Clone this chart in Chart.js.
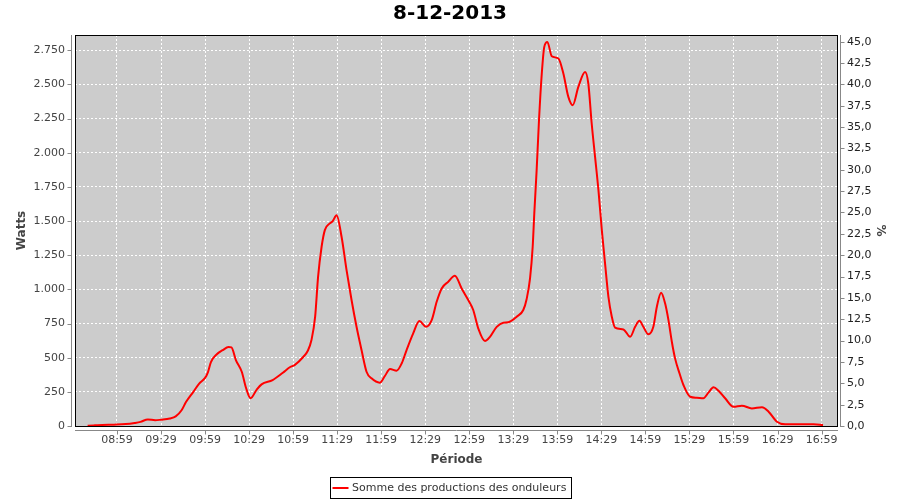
<!DOCTYPE html>
<html>
<head>
<meta charset="utf-8">
<script src="https://cdn.jsdelivr.net/npm/chart.js@4.4.1/dist/chart.umd.min.js"></script>
<style>
  body { margin: 0; background: #fff; }
  #wrap { width: 900px; height: 500px; }
</style>
</head>
<body>
<div id="wrap"><canvas id="prodChart" width="900" height="500"></canvas></div>
<script>
// minutes since midnight
const times = [519, 524, 529, 537, 545, 551, 555, 560, 565, 569, 575, 579, 583, 586, 591, 595, 599, 601, 603, 607, 611, 615, 617, 620, 624, 627, 630,
  634, 637.5, 645, 652, 657, 660, 666, 669, 671.5, 674, 676, 678.4, 680.6, 684, 686, 688.6, 692, 695.4, 698.8, 702.2, 705.6, 709, 712.4, 718,
  721.5, 725, 729.5, 733, 736.3, 740.8, 745, 749.5, 753.4, 756.8, 760.2, 764.7, 769.2, 773.8, 778.3, 781.7, 785.1, 789.7, 793.1, 797.7, 802.2,
  805.6, 811.3, 815.8, 818.1, 820.4, 822.2, 823.3, 824.9, 826.5, 828.4, 830.1, 832.2, 835.2, 839.7, 843.1, 846.5, 849.5, 853.3, 857.9, 860.1,
  862.4, 864.7, 867, 869.3, 871.5, 873.8, 876.1, 878.3, 884, 888.6, 892, 894.9, 897.6, 901, 904.4, 906.8, 909.7, 912.4, 914.7, 917, 919.2,
  922.2, 924.9, 929.5, 934, 938.5, 941.9, 945.4, 948.8, 953.3, 959, 964.7, 971.5, 978.4, 982.9, 988.6, 994.2, 1013.5, 1020];
const watts = [2, 5, 8, 10, 14, 22, 30, 48, 42, 46, 55, 70, 115, 175, 250, 310, 352, 395, 468, 525, 555, 578, 575, 483, 397, 276, 203,
  263, 305, 336, 390, 432, 446, 507, 551, 629, 800, 1092, 1312, 1434, 1483, 1500, 1543, 1385, 1141, 922, 726, 556, 397, 349, 317,
  366, 417, 405, 459, 556, 678, 768, 726, 775, 909, 1007, 1056, 1099, 1007, 922, 849, 715, 622, 653, 726, 756,
  759, 800, 849, 930, 1080, 1312, 1556, 1873, 2238, 2580, 2775, 2811, 2707, 2690, 2580, 2409, 2348, 2482, 2592, 2507,
  2214, 1970, 1726, 1434, 1190, 946, 800, 720, 707, 653, 726, 770, 726, 671, 726, 873, 975, 898, 775, 617, 495,
  386, 300, 214, 207, 203, 244, 283, 258, 203, 141, 149, 129, 137, 105, 31, 12, 12, 7];

const timeTicks = ['08:59', '09:29', '09:59', '10:29', '10:59', '11:29', '11:59', '12:29', '12:59',
  '13:29', '13:59', '14:29', '14:59', '15:29', '15:59', '16:29', '16:59'];
const wattTicks = [0, 250, 500, 750, 1000, 1250, 1500, 1750, 2000, 2250, 2500, 2750];
const pctTicks = [0, 2.5, 5, 7.5, 10, 12.5, 15, 17.5, 20, 22.5, 25, 27.5, 30, 32.5, 35, 37.5, 40, 42.5, 45];

const toMin = s => { const p = s.split(':'); return +p[0] * 60 + +p[1]; };
const fmtTime = v => String(Math.floor(v / 60)).padStart(2, '0') + ':' + String(Math.round(v % 60)).padStart(2, '0');
const fmtWatt = v => v >= 1000 ? Math.floor(v / 1000) + '.' + String(v % 1000).padStart(3, '0') : String(v);
const fmtPct = v => v.toFixed(1).replace('.', ',');

Chart.defaults.font.family = '"DejaVu Sans", sans-serif';
Chart.defaults.font.size = 11;
Chart.defaults.color = '#444444';

// gray background, black frame, offset axis lines, tick marks, legend box
const plotDecor = {
  id: 'plotDecor',
  beforeDraw(chart) {
    const { ctx, chartArea: a } = chart;
    ctx.save();
    ctx.fillStyle = '#cccccc';
    ctx.fillRect(a.left, a.top, a.right - a.left, a.bottom - a.top);
    ctx.restore();
  },
  afterDraw(chart) {
    const { ctx, chartArea: a, scales } = chart;
    ctx.save();
    ctx.strokeStyle = '#000';
    ctx.lineWidth = 1;
    ctx.strokeRect(a.left + 0.5, a.top + 0.5, a.right - a.left - 1, a.bottom - a.top);

    ctx.strokeStyle = '#888888';
    ctx.beginPath();
    const lx = a.left - 3.5, rx = a.right + 2.5, by = a.bottom + 4.5;
    ctx.moveTo(lx, a.top); ctx.lineTo(lx, a.bottom + 1);
    ctx.moveTo(rx, a.top); ctx.lineTo(rx, a.bottom + 1);
    ctx.moveTo(a.left, by); ctx.lineTo(a.right, by);
    scales.y.ticks.forEach(t => {
      const y = Math.round(scales.y.getPixelForValue(t.value)) + 0.5;
      ctx.moveTo(lx - 4, y); ctx.lineTo(lx, y);
    });
    scales.y1.ticks.forEach(t => {
      const y = Math.round(scales.y1.getPixelForValue(t.value)) + 0.5;
      ctx.moveTo(rx, y); ctx.lineTo(rx + 4, y);
    });
    scales.x.ticks.forEach(t => {
      const x = Math.round(scales.x.getPixelForValue(t.value)) + 0.5;
      ctx.moveTo(x, by); ctx.lineTo(x, by + 4);
    });
    ctx.stroke();

    // legend
    const ds = chart.data.datasets[0];
    ctx.font = '11px "DejaVu Sans"';
    const tw = ctx.measureText(ds.label).width;
    const w = Math.round(tw + 27);
    const x0 = Math.round(450 - w / 2) + 0.5, y0 = 477.5, h = 21;
    ctx.fillStyle = '#fff';
    ctx.fillRect(x0, y0, w, h);
    ctx.strokeStyle = '#000';
    ctx.strokeRect(x0, y0, w, h);
    ctx.strokeStyle = ds.borderColor;
    ctx.lineWidth = 2;
    ctx.beginPath();
    ctx.moveTo(x0 + 2, y0 + 10.5); ctx.lineTo(x0 + 18, y0 + 10.5);
    ctx.stroke();
    ctx.fillStyle = '#333333';
    ctx.textBaseline = 'middle';
    ctx.fillText(ds.label, x0 + 21.5, y0 + 11);
    ctx.restore();
  }
};

const ctxProd = document.getElementById('prodChart').getContext('2d');
const prodChart = new Chart(ctxProd, {
  type: 'line',
  data: {
    datasets: [{
      label: 'Somme des productions des onduleurs',
      data: times.map((t, i) => ({ x: t, y: watts[i] })),
      borderColor: '#ff0000',
      borderWidth: 2,
      pointRadius: 0,
      cubicInterpolationMode: 'monotone',
      yAxisID: 'y'
    }]
  },
  options: {
    responsive: false,
    animation: false,
    layout: { padding: 0 },
    plugins: {
      legend: { display: false },
      tooltip: { enabled: false },
      title: {
        display: true,
        text: '8-12-2013',
        color: '#000',
        font: { size: 20, weight: 'bold' },
        padding: { top: 2, bottom: 9 }
      }
    },
    scales: {
      x: {
        type: 'linear',
        min: 510.4,
        max: 1030.2,
        afterBuildTicks: s => { s.ticks = timeTicks.map(l => ({ value: toMin(l) })); },
        afterFit: s => { s.height = 74; },
        ticks: { callback: v => fmtTime(v), padding: 8, autoSkip: false, maxRotation: 0 },
        grid: { color: '#ffffff', drawTicks: false, lineWidth: 1 },
        border: { display: false, dash: [2, 2] },
        title: { display: true, text: 'Période', font: { size: 12, weight: 'bold' }, color: '#444444', padding: { top: 0, bottom: 33 } }
      },
      y: {
        position: 'left',
        min: 0,
        max: 2862,
        afterBuildTicks: s => { s.ticks = wattTicks.map(v => ({ value: v })); },
        afterFit: s => { s.width = 75; },
        ticks: { callback: v => fmtWatt(v), padding: 10 },
        grid: { color: '#ffffff', drawTicks: false, lineWidth: 1 },
        border: { display: false, dash: [2, 2] },
        title: { display: true, text: 'Watts', font: { size: 12, weight: 'bold' }, color: '#444444', padding: { top: 15, bottom: 0 } }
      },
      y1: {
        position: 'right',
        display: true,
        min: 0,
        max: 45.78,
        afterBuildTicks: s => { s.ticks = pctTicks.map(v => ({ value: v })); },
        afterFit: s => { s.width = 62; },
        ticks: { callback: v => fmtPct(v), padding: 9, color: '#222222' },
        grid: { display: false, drawTicks: false },
        border: { display: false },
        title: { display: true, text: '%', font: { size: 12, weight: 'bold' }, color: '#444444', padding: { top: 13, bottom: 0 } }
      }
    }
  },
  plugins: [plotDecor]
});
</script>
</body>
</html>
